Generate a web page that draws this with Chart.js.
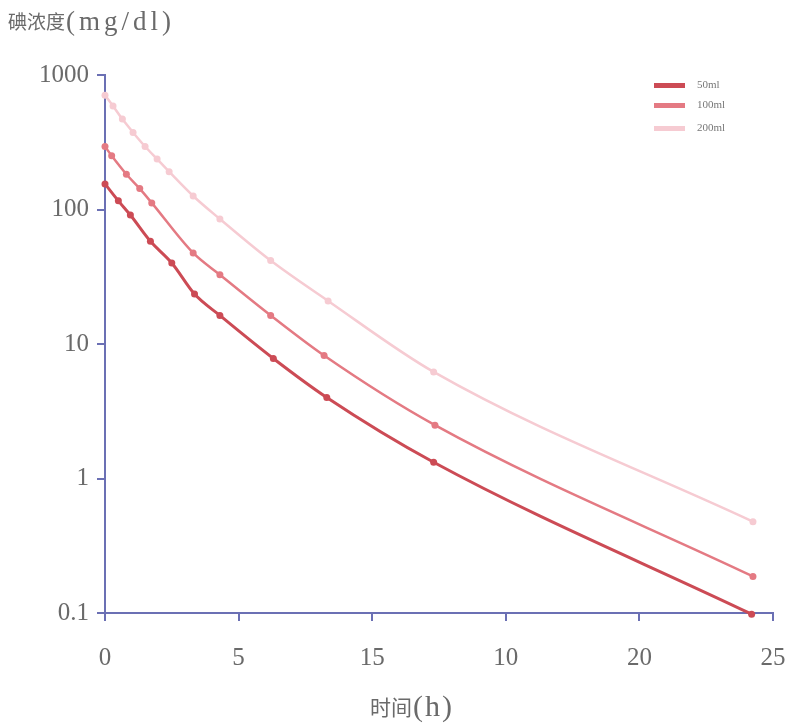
<!DOCTYPE html>
<html>
<head>
<meta charset="utf-8">
<script src="https://cdn.jsdelivr.net/npm/chart.js@4"></script>
<style>
  html, body { margin: 0; padding: 0; background: #fff; }
  #wrap { width: 790px; height: 726px; position: relative; }
</style>
</head>
<body>
<div id="wrap"><canvas id="chart" width="790" height="726"></canvas></div>
<script>
// series values
const time50 = [0, 0.5, 0.95, 1.7, 2.5, 3.35, 4.3, 6.3, 8.3, 12.3, 24.2];
const conc50 = [155, 116, 91, 58, 40, 23.5, 16.3, 7.8, 4.0, 1.32, 0.098];
const time100 = [0, 0.25, 0.8, 1.3, 1.75, 3.3, 4.3, 6.2, 8.2, 12.35, 24.25];
const conc100 = [294, 251, 183, 143, 112, 47.5, 32.7, 16.3, 8.2, 2.49, 0.187];
const time200 = [0, 0.3, 0.65, 1.05, 1.5, 1.95, 2.4, 3.3, 4.3, 6.2, 8.35, 12.3, 24.25];
const conc200 = [708, 589, 470, 374, 294, 237, 191, 126, 85, 41.7, 20.9, 6.2, 0.477];

const seriesLabels = ['50ml', '100ml', '200ml'];
const yTicks = [0.1, 1, 10, 100, 1000];
const yTickLabels = ['0.1', '1', '10', '100', '1000'];
const xTickLabels = ['0', '5', '15', '10', '20', '25'];  // as printed in the original
const yTitle = ['碘浓度', '(mg/dl)'];
const xTitle = ['时间', '(h)'];

const colors = ['#cc4b55', '#e47a83', '#f6cbd2'];
const axisColor = '#6b70b4';
const textColor = '#6a6a6a';
const serif = '"Liberation Serif", "Noto Sans CJK SC", serif';
const cjk = '"Noto Sans CJK SC", sans-serif';

function pts(xs, ys) {
  return xs.map((x, i) => ({ x: x, y: ys[i] }));
}

// draws a cjk part and a latin part next to each other
function twoPart(ctx, parts, x, y, cjkSize, latSize, spacing) {
  ctx.font = cjkSize + 'px ' + cjk;
  ctx.letterSpacing = '0px';
  ctx.fillText(parts[0], x, y);
  const w = ctx.measureText(parts[0]).width;
  ctx.font = latSize + 'px ' + serif;
  ctx.letterSpacing = spacing + 'px';
  ctx.fillText(parts[1], x + w + 1, y + 1);
  ctx.letterSpacing = '0px';
}

// titles + legend drawn straight on the canvas
const extras = {
  id: 'extras',
  afterDraw(chart) {
    const ctx = chart.ctx;
    ctx.save();
    ctx.fillStyle = textColor;
    ctx.textBaseline = 'middle';
    ctx.textAlign = 'left';
    twoPart(ctx, yTitle, 8, 22, 19, 27, 4);
    twoPart(ctx, xTitle, 370, 707, 21, 30, 2);

    const rows = [85, 105, 128];
    ctx.font = '11px ' + serif;
    chart.data.datasets.forEach((ds, i) => {
      ctx.fillStyle = ds.borderColor;
      ctx.fillRect(654, rows[i] - 2, 31, 5);
      ctx.fillStyle = '#777';
      ctx.fillText(ds.label, 697, rows[i]);
    });
    ctx.restore();
  }
};

function makeDataset(i, data, width) {
  return {
    label: seriesLabels[i],
    data: data,
    borderColor: colors[i],
    backgroundColor: colors[i],
    borderWidth: width,
    pointRadius: 3.5,
    pointBorderWidth: 0,
    cubicInterpolationMode: 'monotone',
    clip: false
  };
}

new Chart(document.getElementById('chart'), {
  type: 'line',
  data: {
    datasets: [
      makeDataset(0, pts(time50, conc50), 3),
      makeDataset(1, pts(time100, conc100), 2.5),
      makeDataset(2, pts(time200, conc200), 2.5)
    ]
  },
  options: {
    responsive: false,
    animation: false,
    devicePixelRatio: 1,
    layout: { padding: { left: 0, right: 17, top: 75, bottom: 0 } },
    plugins: {
      legend: { display: false },
      tooltip: { enabled: false }
    },
    scales: {
      x: {
        type: 'linear',
        min: 0,
        max: 25,
        afterFit(scale) {
          scale.height = 113;
          scale.paddingLeft = 0;
          scale.paddingRight = 0;
        },
        afterBuildTicks(scale) {
          scale.ticks = xTickLabels.map((_, i) => ({ value: i * 5 }));
        },
        ticks: {
          padding: 22,
          maxRotation: 0,
          color: textColor,
          font: { family: serif, size: 25 },
          callback: (v, i) => xTickLabels[i]
        },
        grid: { drawOnChartArea: false, tickLength: 8, color: axisColor, lineWidth: 2 },
        border: { color: axisColor, width: 2 }
      },
      y: {
        type: 'logarithmic',
        min: 0.1,
        max: 1000,
        afterFit(scale) {
          scale.width = 105;
          scale.paddingTop = 0;
          scale.paddingBottom = 0;
        },
        afterBuildTicks(scale) {
          scale.ticks = yTicks.map(v => ({ value: v }));
        },
        ticks: {
          padding: 8,
          color: textColor,
          font: { family: serif, size: 25 },
          callback: (v, i) => yTickLabels[i]
        },
        grid: { drawOnChartArea: false, tickLength: 8, color: axisColor, lineWidth: 2 },
        border: { color: axisColor, width: 2 }
      }
    }
  },
  plugins: [extras]
});
</script>
</body>
</html>
